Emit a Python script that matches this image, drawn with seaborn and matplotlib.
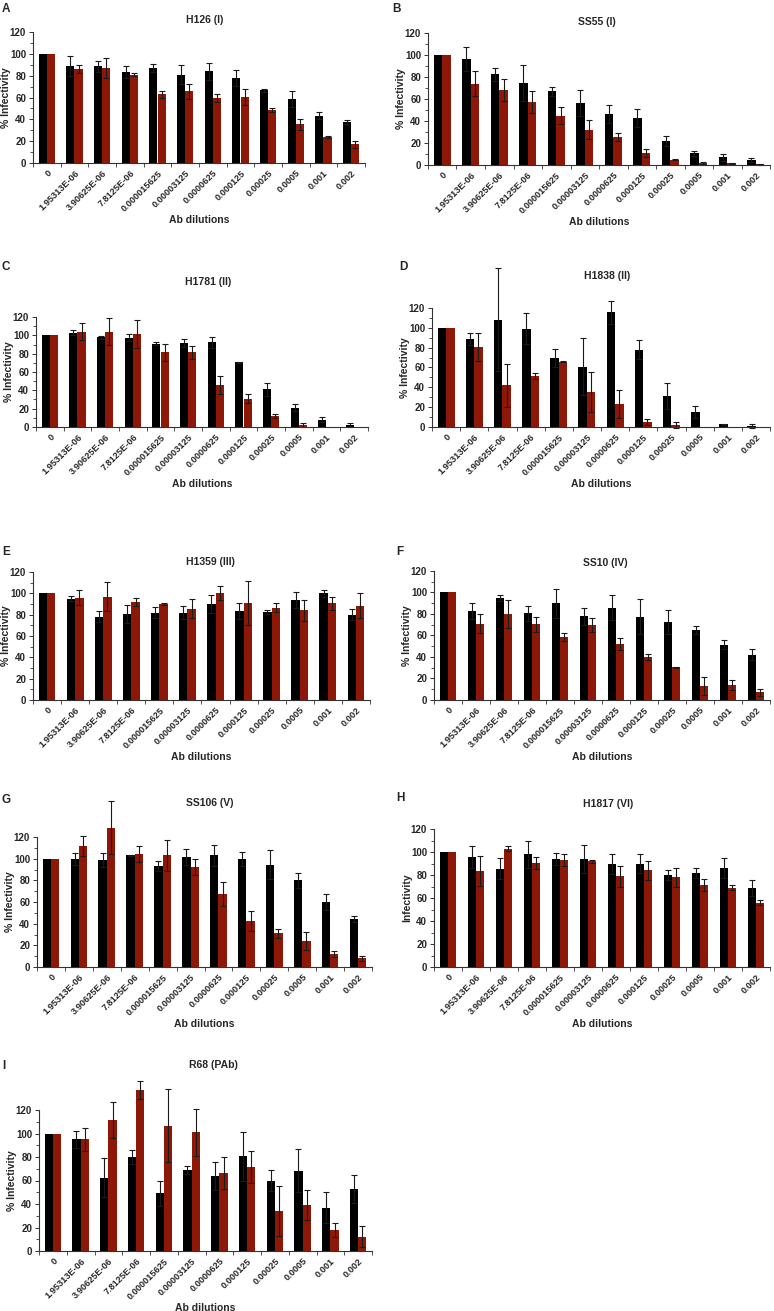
import matplotlib
matplotlib.use("Agg")
import matplotlib.pyplot as plt
import seaborn as sns
import pandas as pd
import numpy as np
from matplotlib.ticker import MultipleLocator, FixedLocator

sns.set_style("white")
plt.rcParams['font.family'] = ['Liberation Sans', 'DejaVu Sans']

dilutions = ["0", "1.95313E-06", "3.90625E-06", "7.8125E-06", "0.000015625",
             "0.00003125", "0.0000625", "0.000125", "0.00025", "0.0005", "0.001", "0.002"]
series = ["black", "red"]

# Panel A: H126 (I)
a_black = [100, 89, 88.5, 83, 87, 81, 84, 78, 66.5, 58.5, 43.5, 37.5]
a_black_sd = [0, 9, 5, 5.5, 3.5, 9, 8, 7.5, 1.5, 7.5, 3.5, 1.5]
a_red = [100, 86, 87, 81, 63, 65.5, 59.5, 60.5, 48.5, 35.5, 24, 17]
a_red_sd = [0, 3.5, 9, 1.5, 3, 7, 4, 7.5, 1.5, 5, 0.8, 3]
# Panel B: SS55 (I)
b_black = [100, 96, 82.5, 74.5, 67, 56.5, 46.5, 42.5, 22, 10.5, 7, 4.5]
b_black_sd = [0, 11, 6, 16.5, 4, 12, 8.5, 8, 4.5, 2.5, 3, 1.5]
b_red = [100, 74, 68.5, 57.5, 45, 32, 25.5, 11, 5, 2, 1.5, 0.5]
b_red_sd = [0, 11, 10, 10, 8, 8.5, 3.5, 4, 0.5, 1, 0.5, 0.3]
# Panel C: H1781 (II)
c_black = [100, 103, 98, 97.5, 91, 91.5, 92.5, 70.5, 41, 21, 8, 2]
c_black_sd = [0, 3, 1.5, 3.5, 1.5, 4, 6, 0.5, 7, 4, 3, 2]
c_red = [100, 104, 104, 101.5, 81.5, 81.5, 46, 31, 12, 2, 0, 0]
c_red_sd = [0, 9, 14.5, 15, 9.5, 7, 10, 5, 2, 2, 0, 0]
# Panel D: H1838 (II)
d_black = [100, 88.5, 108, 99, 69.5, 61, 115.5, 78, 31, 15, 3, 1]
d_black_sd = [0, 6, 52, 15.5, 9, 29, 11.5, 9.5, 13, 6, 0.5, 2]
d_red = [100, 81, 42, 51.5, 66, 35, 23, 5, 2, 0, 0, 0]
d_red_sd = [0, 14, 22, 3, 0.5, 20, 14, 3, 3, 0, 0, 0]
# Panel E: H1359 (III)
e_black = [100, 95, 78, 81, 82, 82, 90, 83, 82.5, 93.5, 100, 80]
e_black_sd = [0, 2.5, 5, 8.5, 5.5, 6, 8.5, 7.5, 2, 7.5, 3, 5]
e_red = [100, 96, 97, 92, 90, 85.5, 100, 91, 86.5, 84, 90.5, 88.5]
e_red_sd = [0, 7, 14, 3.5, 0.7, 9, 6.5, 21, 4, 10, 6.5, 11.5]
# Panel F: SS10 (IV)
f_black = [100, 83, 95, 80.5, 90, 78, 86, 77.5, 72.5, 65, 51.5, 42]
f_black_sd = [0, 7.5, 2.5, 7, 13.5, 8, 11.5, 16, 11, 4, 4, 5]
f_red = [100, 71, 80, 70.5, 58.5, 70, 52, 40, 30.5, 13, 14, 7]
f_red_sd = [0, 9, 13, 7, 3.5, 6.5, 5.5, 3, 0.5, 8, 5, 3]
# Panel G: SS106 (V)
g_black = [100, 100, 99, 103, 93, 101.5, 103, 100, 94.5, 80, 60, 44.5]
g_black_sd = [0, 5.5, 6.5, 0.6, 4.5, 7.5, 9.5, 6.5, 13.5, 7, 7, 2.5]
g_red = [100, 111.5, 128.5, 104.5, 103, 92.5, 67.5, 42.5, 31, 24, 12, 8]
g_red_sd = [0, 9, 24.5, 7.5, 14, 7.5, 11, 9, 4, 8, 3, 2]
# Panel H: H1817 (VI)
h_black = [100, 95.5, 85.5, 98, 94, 94, 89.5, 90, 80, 81.5, 86, 68.5]
h_black_sd = [0, 9.5, 9, 12, 5, 12, 8.5, 8, 4, 4.5, 8.5, 7]
h_red = [100, 83.5, 103, 90.5, 93, 92, 79, 84, 78, 71.5, 69, 56]
h_red_sd = [0, 13, 2.2, 5.5, 5, 1.3, 9, 8, 8, 5, 2.3, 2.2]
# Panel I: R68 (PAb)
i_black = [100, 95, 62.5, 80, 49, 69, 63.5, 80.5, 60, 68.5, 37, 53]
i_black_sd = [0, 7.5, 16.5, 6, 10.5, 3.5, 12, 20.5, 9, 18.5, 13, 12]
i_red = [100, 95, 111.5, 137, 106.5, 101, 66.5, 71.5, 34, 39, 18, 12]
i_red_sd = [0, 10, 15, 7.5, 31, 20, 13.5, 14, 21, 13, 6, 9]

panels = [
    # letter, title, ylabel, data, (left, top, right, bottom px), title pos, letter pos
    ("A", "H126 (I)", "% Infectivity", a_black, a_black_sd, a_red, a_red_sd, (33, 32, 365, 163), (205, 20), (2, 9)),
    ("B", "SS55 (I)", "% Infectivity", b_black, b_black_sd, b_red, b_red_sd, (428, 33, 770, 165), (597, 22), (392, 9)),
    ("C", "H1781 (II)", "% Infectivity", c_black, c_black_sd, c_red, c_red_sd, (36, 317, 368, 427), (208, 282), (2, 267)),
    ("D", "H1838 (II)", "% Infectivity", d_black, d_black_sd, d_red, d_red_sd, (432, 308, 770, 427), (607, 276), (399, 267)),
    ("E", "H1359 (III)", "% Infectivity", e_black, e_black_sd, e_red, e_red_sd, (33, 572, 370, 700), (210, 562), (2, 552)),
    ("F", "SS10 (IV)", "% Infectivity", f_black, f_black_sd, f_red, f_red_sd, (434, 571, 770, 700), (605, 563), (396, 552)),
    ("G", "SS106 (V)", "% Infectivity", g_black, g_black_sd, g_red, g_red_sd, (37, 837, 372, 967), (210, 803), (2, 800)),
    ("H", "H1817 (VI)", "Infectivity", h_black, h_black_sd, h_red, h_red_sd, (434, 829, 770, 967), (608, 804), (396, 798)),
    ("I", "R68 (PAb)", "% Infectivity", i_black, i_black_sd, i_red, i_red_sd, (39, 1110, 372, 1251), (213, 1065), (2, 1066)),
]

W, H = 774, 1311
fig = plt.figure(figsize=(W / 100, H / 100), dpi=100)
palette = {"black": "#000000", "red": "#8e1808"}

for (letter, title, ylab, bv, bsd, rv, rsd, (l, t, r, b), (tx, ty), (lx, ly)) in panels:
    ax = fig.add_axes([l / W, 1 - b / H, (r - l) / W, (b - t) / H])
    df = pd.DataFrame({
        "dilution": dilutions * 2,
        "series": ["black"] * 12 + ["red"] * 12,
        "value": list(bv) + list(rv),
    })
    sns.barplot(data=df, x="dilution", y="value", hue="series", order=dilutions,
                hue_order=series, palette=palette, width=0.6, errorbar=None,
                legend=False, ax=ax, linewidth=0, saturation=1)
    for cont, vals, sds in zip(ax.containers, [bv, rv], [bsd, rsd]):
        xs, ys, es = [], [], []
        for p, v, s in zip(cont, vals, sds):
            p.set_clip_on(False)
            if s > 0:
                xs.append(p.get_x() + p.get_width() / 2)
                ys.append(v)
                es.append(s)
        eb = ax.errorbar(xs, ys, yerr=es, fmt="none", ecolor="#1a1a1a",
                         elinewidth=0.8, capsize=2, capthick=0.8)
        for art in eb.lines[1] + eb.lines[2]:
            art.set_clip_on(False)
    ax.set_ylim(0, 120)
    ax.set_xlim(-0.5, 11.5)
    ax.yaxis.set_major_locator(FixedLocator([0, 20, 40, 60, 80, 100, 120]))
    ax.yaxis.set_minor_locator(MultipleLocator(10))
    ax.xaxis.set_minor_locator(FixedLocator(np.arange(-0.5, 12, 1)))
    for s in ["top", "right"]:
        ax.spines[s].set_visible(False)
    for s in ["left", "bottom"]:
        ax.spines[s].set_linewidth(0.8)
        ax.spines[s].set_color("#333333")
    ax.tick_params(axis="y", which="major", length=3, width=0.7, labelsize=7, pad=2, left=True, color="#333333")
    ax.tick_params(axis="y", which="minor", length=2, width=0.6, left=True, color="#333333")
    ax.tick_params(axis="x", which="major", length=0, labelsize=6.6, pad=4)
    ax.tick_params(axis="x", which="minor", length=3, width=0.6, bottom=True, color="#333333")
    for lbl in ax.get_yticklabels():
        lbl.set_fontweight("bold")
    for lbl in ax.get_xticklabels():
        lbl.set_fontweight("bold")
        lbl.set_rotation(45)
        lbl.set_ha("right")
        lbl.set_va("top")
        lbl.set_rotation_mode("anchor")
    ax.set_xlabel("")
    ax.set_ylabel("")
    cx = (l + r) / 2
    fig.text(cx / W, 1 - (b + 57) / H, "Ab dilutions", ha="center", va="center",
             fontsize=7.5, fontweight="bold")
    fig.text((l - 27) / W, 1 - ((t + b) / 2) / H, ylab, rotation=90, ha="center",
             va="center", fontsize=7.5, fontweight="bold")
    fig.text(tx / W, 1 - ty / H, title, ha="center", va="center", fontsize=7.5,
             fontweight="bold")
    fig.text(lx / W, 1 - ly / H, letter, ha="left", va="center", fontsize=8.5,
             fontweight="bold")

fig.savefig("out.png", dpi=100)
